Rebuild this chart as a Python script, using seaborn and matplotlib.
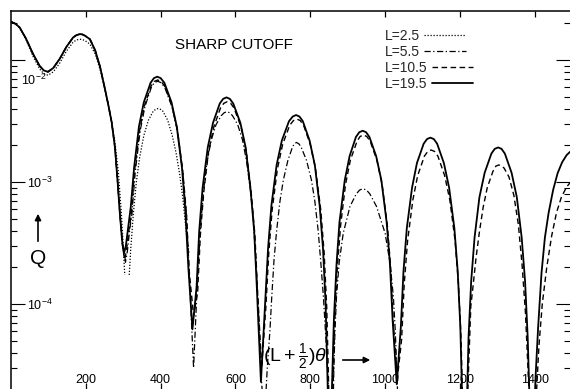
import numpy as np
import matplotlib
matplotlib.use("Agg")
import matplotlib.pyplot as plt
import seaborn as sns
from matplotlib.lines import Line2D
from matplotlib.ticker import FixedLocator, LogLocator, NullFormatter
from matplotlib.transforms import ScaledTranslation

# ---------------- data ----------------
# common head shared by L = 5.5, 10.5, 19.5 (they coincide for small angles)
head_x = [0, 12, 23, 40, 59, 77, 88, 99, 113, 130, 148, 166, 175, 184, 191, 198, 211, 225,
          238, 250, 260, 269, 278, 285, 291]
head_q = [2.06e-2, 1.98e-2, 1.85e-2, 1.5e-2, 1.12e-2, 8.9e-3, 8.2e-3, 8.0e-3, 8.6e-3,
          1.02e-2, 1.28e-2, 1.53e-2, 1.6e-2, 1.63e-2, 1.62e-2, 1.58e-2, 1.48e-2, 1.2e-2,
          8.8e-3, 6.0e-3, 4.3e-3, 3.1e-3, 1.9e-3, 1.0e-3, 5.5e-4]

# L = 19.5 (solid)
tail_x_195 = [297, 302, 307, 313,
              320, 329, 342, 355, 373, 382, 391, 400, 410, 429, 443, 457, 466, 474, 485,
              496, 503, 512, 526, 540, 558, 567, 576, 585, 594, 613, 627, 640, 650, 657, 668,
              679, 687, 696, 710, 724, 743, 753, 762, 771, 780, 798, 812, 825, 834, 841, 847, 852,
              856, 863, 870, 878, 892, 905, 922, 931, 940, 949, 958, 976, 990, 1004, 1013, 1020, 1031,
              1042, 1049, 1058, 1072, 1085, 1103, 1112, 1121, 1130, 1139, 1157, 1171, 1185, 1194, 1201, 1207, 1212,
              1217, 1223, 1230, 1239, 1252, 1266, 1284, 1293, 1302, 1311, 1320, 1338, 1352, 1365, 1374, 1381, 1388, 1393,
              1397, 1402, 1409, 1418, 1427, 1437, 1449, 1461, 1473, 1485, 1497]
tail_q_195 = [3.3e-4, 2.6e-4, 3.0e-4, 4.2e-4,
              6.2e-4, 1.31e-3, 2.85e-3, 4.5e-3, 6.5e-3, 7.1e-3, 7.3e-3, 7.1e-3, 6.5e-3, 4.5e-3, 2.85e-3, 1.31e-3, 5.8e-4, 2.0e-4, 6.2e-5,
              1.38e-4, 3.95e-4, 8.9e-4, 1.93e-3, 3.06e-3, 4.4e-3, 4.8e-3, 4.94e-3, 4.8e-3, 4.4e-3, 3.06e-3, 1.93e-3, 8.9e-4, 3.95e-4, 1.38e-4, 2.3e-5,
              9.9e-5, 2.83e-4, 6.4e-4, 1.38e-3, 2.19e-3, 3.15e-3, 3.44e-3, 3.54e-3, 3.44e-3, 3.15e-3, 2.19e-3, 1.38e-3, 6.4e-4, 2.83e-4, 9.9e-5, 1.8e-5, 8e-6,
              1.3e-5, 7.4e-5, 2.1e-4, 4.7e-4, 1.03e-3, 1.63e-3, 2.34e-3, 2.56e-3, 2.63e-3, 2.56e-3, 2.34e-3, 1.63e-3, 1.03e-3, 4.7e-4, 2.1e-4, 7.4e-5, 2.2e-5,
              6.5e-5, 1.85e-4, 4.2e-4, 9e-4, 1.43e-3, 2.06e-3, 2.25e-3, 2.31e-3, 2.25e-3, 2.06e-3, 1.43e-3, 9e-4, 4.2e-4, 1.85e-4, 6.5e-5, 1.2e-5, 6e-6,
              1e-5, 5.4e-5, 1.54e-4, 3.5e-4, 7.5e-4, 1.19e-3, 1.71e-3, 1.87e-3, 1.92e-3, 1.87e-3, 1.71e-3, 1.19e-3, 7.5e-4, 3.5e-4, 1.54e-4, 5.4e-5, 1e-5, 5e-6,
              8e-6, 2.5e-5, 6.5e-5, 1.8e-4, 3.5e-4, 5.6e-4, 8.6e-4, 1.18e-3, 1.45e-3, 1.66e-3, 1.8e-3]

# L = 10.5 (dashed)
tail_x_105 = [298, 304, 309, 315,
              322, 330, 344, 357, 374, 383, 392, 401, 411, 430, 445, 459, 469, 476, 488,
              499, 506, 515, 528, 542, 560, 569, 578, 587, 596, 615, 629, 642, 652, 659, 670,
              681, 689, 698, 712, 726, 745, 755, 764, 773, 782, 800, 814, 828, 837, 844, 850, 855,
              859, 865, 872, 881, 894, 907, 925, 933, 942, 951, 960, 978, 992, 1006, 1015, 1022, 1033,
              1044, 1051, 1060, 1074, 1087, 1105, 1114, 1123, 1132, 1141, 1159, 1173, 1187, 1196, 1203, 1209, 1214,
              1229, 1235, 1243, 1252, 1262, 1273, 1288, 1296, 1304, 1311, 1318, 1331, 1344, 1356, 1366, 1375, 1383, 1390, 1396,
              1400, 1405, 1411, 1420, 1432, 1445, 1458, 1471, 1485, 1497]
tail_q_105 = [3.0e-4, 2.3e-4, 2.8e-4, 4.0e-4,
              5.5e-4, 1.23e-3, 2.68e-3, 4.25e-3, 6.1e-3, 6.67e-3, 6.86e-3, 6.67e-3, 6.1e-3, 4.25e-3, 2.68e-3, 1.23e-3, 5.5e-4, 1.9e-4, 8e-5,
              1.27e-4, 3.64e-4, 8.2e-4, 1.77e-3, 2.82e-3, 4.05e-3, 4.42e-3, 4.55e-3, 4.42e-3, 4.05e-3, 2.82e-3, 1.77e-3, 8.2e-4, 3.64e-4, 1.27e-4, 3e-5,
              9.2e-5, 2.62e-4, 5.9e-4, 1.28e-3, 2.03e-3, 2.92e-3, 3.19e-3, 3.28e-3, 3.19e-3, 2.92e-3, 2.03e-3, 1.28e-3, 5.9e-4, 2.62e-4, 9.2e-5, 1.6e-5, 8e-6,
              1.2e-5, 6.8e-5, 1.94e-4, 4.4e-4, 9.5e-4, 1.51e-3, 2.16e-3, 2.36e-3, 2.43e-3, 2.36e-3, 2.16e-3, 1.51e-3, 9.5e-4, 4.4e-4, 1.94e-4, 6.8e-5, 2.5e-5,
              5.1e-5, 1.46e-4, 3.3e-4, 7.1e-4, 1.13e-3, 1.63e-3, 1.78e-3, 1.83e-3, 1.78e-3, 1.63e-3, 1.13e-3, 7.1e-4, 3.3e-4, 1.46e-4, 5.1e-5, 9e-6, 5e-6,
              9.6e-5, 1.4e-4, 2.4e-4, 3.9e-4, 6.2e-4, 9e-4, 1.22e-3, 1.35e-3, 1.38e-3, 1.355e-3, 1.3e-3, 1.1e-3, 7.8e-4, 4.5e-4, 2.1e-4, 8.5e-5, 2.5e-5, 8e-6, 5e-6,
              1e-5, 2e-5, 4.5e-5, 1.0e-4, 2e-4, 3.6e-4, 5.6e-4, 7.5e-4, 9.1e-4, 1.01e-3]

# L = 5.5 (dash-dot)
tail_x_55 = [298, 306, 311, 317,
             323, 332, 345, 358, 375, 383, 392, 401, 411, 430, 445, 459, 469, 476, 488,
             496, 501, 507, 515, 523, 535, 548, 562, 570, 577, 584, 592, 606, 619, 630, 640, 647, 655, 662, 670,
             678, 685, 692, 697, 703, 710, 719, 728, 740, 752, 757, 763, 769, 775, 790, 803, 812, 821, 828, 835, 842, 849, 855,
             860, 863, 866, 870, 877, 888, 906, 923, 932, 941, 950, 959, 977, 1000, 1013, 1022, 1027, 1032, 1036]
tail_q_55 = [3.0e-4, 2.2e-4, 2.7e-4, 4.0e-4,
             5.4e-4, 1.2e-3, 2.61e-3, 4.15e-3, 5.96e-3, 6.52e-3, 6.7e-3, 6.52e-3, 5.96e-3, 4.15e-3, 2.61e-3, 1.2e-3, 5.4e-4, 1.9e-4, 3e-5,
             1.08e-4, 2.2e-4, 4.5e-4, 8.6e-4, 1.4e-3, 2.2e-3, 2.95e-3, 3.5e-3, 3.7e-3, 3.77e-3, 3.7e-3, 3.5e-3, 2.95e-3, 2.2e-3, 1.45e-3, 8.5e-4, 5.2e-4, 2.2e-4, 8e-5, 2.2e-5,
             1.2e-5, 3e-5, 6e-5, 1.15e-4, 2.3e-4, 4e-4, 7e-4, 1.04e-3, 1.5e-3, 1.92e-3, 2.05e-3, 2.11e-3, 2.06e-3, 1.95e-3, 1.5e-3, 1.04e-3, 7e-4, 4e-4, 2.2e-4, 1.15e-4, 5e-5, 1.8e-5, 7e-6,
             1e-5, 3e-5, 6.1e-5, 1.15e-4, 2.17e-4, 3.8e-4, 6.3e-4, 8.0e-4, 8.6e-4, 8.8e-4, 8.6e-4, 8.0e-4, 6.3e-4, 3.8e-4, 2.17e-4, 1.15e-4, 6.1e-5, 2.5e-5, 1e-5]

# L = 2.5 (dotted), two pieces (the first dip is left open)
x_25a = [0, 12, 23, 40, 59, 77, 88, 99, 113, 130, 148, 166, 175, 184, 191, 198, 211, 225,
         238, 250, 260, 269, 278, 287, 295, 300, 304]
q_25a = [2.06e-2, 1.98e-2, 1.85e-2, 1.47e-2, 1.07e-2, 8.4e-3, 7.7e-3, 7.5e-3, 8.0e-3,
         9.4e-3, 1.18e-2, 1.4e-2, 1.46e-2, 1.48e-2, 1.47e-2, 1.44e-2, 1.35e-2, 1.12e-2,
         8.4e-3, 5.9e-3, 4.3e-3, 3.1e-3, 2.1e-3, 1.2e-3, 5.5e-4, 3.0e-4, 1.73e-4]
x_25b = [316, 320, 327, 335, 344, 355, 367, 380, 387, 393, 399, 406, 419, 431, 441, 451, 459, 466, 471, 476]
q_25b = [1.73e-4, 2.8e-4, 5.5e-4, 1.0e-3, 1.6e-3, 2.4e-3, 3.2e-3, 3.8e-3, 3.95e-3, 4.0e-3, 3.95e-3,
         3.8e-3, 3.2e-3, 2.4e-3, 1.75e-3, 1.15e-3, 7.5e-4, 4.6e-4, 3.3e-4, 2.6e-4]

legend_labels = ["L=2.5", "L=5.5", "L=10.5", "L=19.5"]
x_ticks = [200, 400, 600, 800, 1000, 1200, 1400]
y_major = [1e-4, 1e-3, 1e-2]
y_major_labels = [r"$10^{-4}$", r"$10^{-3}$", r"$10^{-2}$"]

# ---------------- styling ----------------
sns.set_theme(style="white")
plt.rcParams["font.family"] = ["Liberation Sans", "DejaVu Sans"]
plt.rcParams["mathtext.fontset"] = "custom"
plt.rcParams["mathtext.rm"] = "Liberation Sans"
plt.rcParams["mathtext.it"] = "Liberation Sans:italic"
plt.rcParams["mathtext.bf"] = "Liberation Sans:bold"
plt.rcParams["mathtext.sf"] = "Liberation Sans"

W, H = 570, 389
fig = plt.figure(figsize=(W / 100, H / 100), dpi=100)
ax = fig.add_axes([11 / W, 0.0, (W - 11) / W, (H - 11) / H])

styles = {
    "dot": dict(linestyle=(0, (1, 1.4)), lw=0.9),
    "dashdot": dict(linestyle=(0, (5, 2, 1, 2)), lw=0.9),
    "dash": dict(linestyle=(0, (4, 2.5)), lw=1.0),
    "solid": dict(linestyle="-", lw=1.3),
}

def draw(xs, qs, style):
    sns.lineplot(x=xs, y=qs, ax=ax, color="black", sort=False, estimator=None, **styles[style])

draw(x_25a, q_25a, "dot")
draw(x_25b, q_25b, "dot")
draw(head_x + tail_x_55, head_q + tail_q_55, "dashdot")
draw(head_x + tail_x_105, head_q + tail_q_105, "dash")
draw(head_x + tail_x_195, head_q + tail_q_195, "solid")

ax.set_yscale("log")
ax.set_xlim(0, (W - 11.2) / 0.374)
ax.set_ylim(10 ** (-4 - (389 - 304) / 122), 10 ** (-2 + 49 / 122))
ax.set_xlabel("")
ax.set_ylabel("")

for s in ["left", "top"]:
    ax.spines[s].set_visible(True)
    ax.spines[s].set_color("black")
    ax.spines[s].set_linewidth(1.1)
for s in ["right", "bottom"]:
    ax.spines[s].set_visible(False)

# x ticks (labels drawn inside, above the bottom edge)
ax.xaxis.set_major_locator(FixedLocator(x_ticks))
ax.set_xticklabels([str(v) for v in x_ticks])
ax.tick_params(axis="x", which="major", direction="in", top=True, bottom=True,
               length=4.5, width=0.9, color="black", pad=-4.5, labelsize=9, labelcolor="black")
for lbl in ax.get_xticklabels():
    lbl.set_va("baseline")

# y ticks (labels drawn inside the left axis)
ax.yaxis.set_major_locator(FixedLocator(y_major))
ax.set_yticklabels(y_major_labels)
ax.yaxis.set_minor_locator(LogLocator(base=10, subs=np.arange(2, 10), numticks=20))
ax.yaxis.set_minor_formatter(NullFormatter())
ax.tick_params(axis="y", which="major", direction="in", left=True, right=True,
               length=10, width=0.8, color="black", pad=-11.5, labelsize=9, labelcolor="black")
ax.tick_params(axis="y", which="minor", direction="in", left=True, right=True,
               length=4.5, width=0.8, color="black")
for lbl, val in zip(ax.get_yticklabels(), y_major):
    lbl.set_ha("left")
    if val == 1e-2:
        lbl.set_transform(lbl.get_transform() + ScaledTranslation(-6 / 100, -19 / 100, fig.dpi_scale_trans))

# annotations
ax.text((175 - 11) / 559, (389 - 45) / 378, "SHARP CUTOFF", transform=ax.transAxes,
        ha="left", va="center", fontsize=11, color="black")
ax.text((38 - 11) / 559, (389 - 258) / 378, "Q", transform=ax.transAxes,
        ha="center", va="center", fontsize=15, color="black")
ax.annotate("", xy=((38 - 11) / 559, (389 - 211) / 378), xytext=((38 - 11) / 559, (389 - 244) / 378),
            xycoords="axes fraction", textcoords="axes fraction",
            arrowprops=dict(arrowstyle="-|>", color="black", lw=1.2, mutation_scale=9))
ax.text((295 - 11) / 559, (389 - 357) / 378, r"$(\mathrm{L}+\frac{1}{2})\theta$", transform=ax.transAxes,
        ha="center", va="center", fontsize=14, color="black")
ax.annotate("", xy=((373 - 11) / 559, (389 - 360) / 378), xytext=((340 - 11) / 559, (389 - 360) / 378),
            xycoords="axes fraction", textcoords="axes fraction",
            arrowprops=dict(arrowstyle="-|>", color="black", lw=1.2, mutation_scale=9))

handles = [Line2D([], [], color="black", **styles["dot"]),
           Line2D([], [], color="black", **styles["dashdot"]),
           Line2D([], [], color="black", **styles["dash"]),
           Line2D([], [], color="black", **styles["solid"])]
leg = ax.legend(handles, legend_labels, loc="upper left",
                bbox_to_anchor=((385 - 11) / 559, (389 - 29) / 378),
                frameon=False, markerfirst=False, fontsize=10, handlelength=3.0,
                handletextpad=0.3, labelspacing=0.15, borderpad=0, borderaxespad=0)
for col in leg._legend_handle_box.get_children():
    col.align = "left"

fig.savefig("out.png", dpi=100, facecolor="white")
